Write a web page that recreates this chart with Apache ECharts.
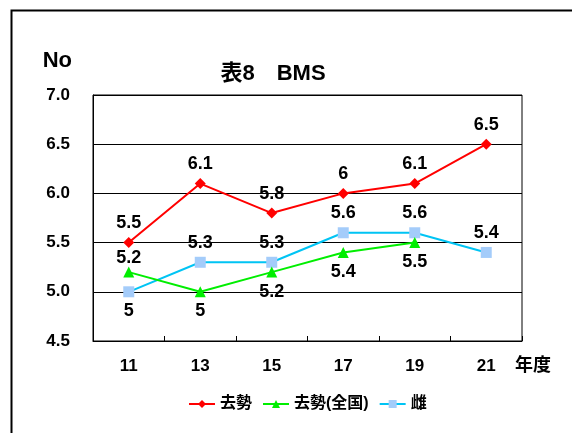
<!DOCTYPE html>
<html>
<head>
<meta charset="utf-8">
<script src="https://cdn.jsdelivr.net/npm/echarts@6/dist/echarts.min.js"></script>
<style>
html,body{margin:0;padding:0;background:#fff;}
#chart{width:572px;height:433px;}
</style>
</head>
<body>
<div id="chart"></div>
<script>
// BMS by fiscal year
const years = ['11', '13', '15', '17', '19', '21'];
const steerValues = [5.5, 6.1, 5.8, 6, 6.1, 6.5];
const steerNationalValues = [5.2, 5.0, 5.2, 5.4, 5.5, null];
const heiferValues = [5.0, 5.3, 5.3, 5.6, 5.6, 5.4];
const yTicks = ['4.5', '5.0', '5.5', '6.0', '6.5', '7.0'];

// label side for each point
const steerNationalLabelPos = ['top', 'bottom', 'bottom', 'bottom', 'bottom', 'bottom'];
const heiferLabelPos = ['bottom', 'top', 'top', 'top', 'top', 'top'];

const FONT = '"Liberation Sans", "Noto Sans CJK JP", sans-serif';

function withLabels(values, positions) {
  return values.map((v, i) => ({
    value: v,
    label: { position: positions ? positions[i] : 'top' }
  }));
}

const labelStyle = {
  show: true,
  fontFamily: FONT,
  fontWeight: 'bold',
  fontSize: 18,
  color: '#000',
  distance: 5,
  formatter: p => String(p.value)
};

const nationalData = withLabels(steerNationalValues, steerNationalLabelPos);
// first label sits tight above its marker, just under the red point
nationalData[0].label.distance = 0;

const chart = echarts.init(document.getElementById('chart'));
chart.setOption({
  animation: false,
  backgroundColor: '#fff',
  textStyle: { fontFamily: FONT },
  graphic: [{
    type: 'rect',
    shape: { x: 11.5, y: 10.5, width: 600, height: 460 },
    style: { fill: 'none', stroke: '#000', lineWidth: 2 }
  }],
  title: {
    text: '表8　BMS',
    left: 268, top: 58, textAlign: 'center',
    textStyle: { fontFamily: FONT, fontWeight: 'bold', fontSize: 22, color: '#000' }
  },
  legend: {
    top: 391, left: 183,
    itemWidth: 26, itemHeight: 10, itemGap: 10,
    textStyle: { fontFamily: FONT, fontWeight: 'bold', fontSize: 16, color: '#000' },
    data: ['去勢', '去勢(全国)', '雌']
  },
  grid: { left: 93, top: 95, right: 50, bottom: 92, containLabel: false, show: true, borderColor: '#000', borderWidth: 1 },
  xAxis: {
    type: 'category',
    data: years,
    boundaryGap: true,
    name: '年度',
    nameLocation: 'end',
    nameGap: -7,
    nameTextStyle: { fontFamily: FONT, fontWeight: 'bold', fontSize: 18, color: '#000', align: 'left', verticalAlign: 'top', padding: [16, 0, 0, 0] },
    axisLine: { show: true, lineStyle: { color: '#000', width: 1 } },
    axisTick: { show: true, inside: true, length: 5, lineStyle: { color: '#000' } },
    axisLabel: { fontFamily: FONT, fontWeight: 'bold', fontSize: 17, color: '#000', margin: 17 },
    splitLine: { show: false }
  },
  yAxis: {
    type: 'value',
    min: 4.5, max: 7.0, interval: 0.5,
    name: 'No',
    nameLocation: 'end',
    nameGap: 23,
    nameTextStyle: { fontFamily: FONT, fontWeight: 'bold', fontSize: 22, color: '#000', align: 'right', padding: [0, 21, 0, 0] },
    axisLine: { show: true, lineStyle: { color: '#000' } },
    axisTick: { show: false },
    axisLabel: {
      fontFamily: FONT, fontWeight: 'bold', fontSize: 17, color: '#000', margin: 23,
      formatter: (v) => yTicks.find(t => Math.abs(parseFloat(t) - v) < 1e-6) || ''
    },
    splitLine: { show: true, lineStyle: { color: '#000', width: 1 } }
  },
  series: [
    {
      name: '去勢', type: 'line',
      data: withLabels(steerValues),
      symbol: 'diamond', symbolSize: 11,
      lineStyle: { color: '#ff0000', width: 2 },
      itemStyle: { color: '#ff0000' },
      label: labelStyle, z: 4
    },
    {
      name: '去勢(全国)', type: 'line',
      data: nationalData,
      symbol: 'triangle', symbolSize: 11,
      lineStyle: { color: '#00ee00', width: 2 },
      itemStyle: { color: '#00ee00' },
      label: labelStyle, z: 3
    },
    {
      name: '雌', type: 'line',
      data: withLabels(heiferValues, heiferLabelPos),
      symbol: 'rect', symbolSize: 11,
      lineStyle: { color: '#00c4f4', width: 2 },
      itemStyle: { color: '#a4ccfa' },
      label: labelStyle, z: 2
    }
  ]
});
</script>
</body>
</html>
